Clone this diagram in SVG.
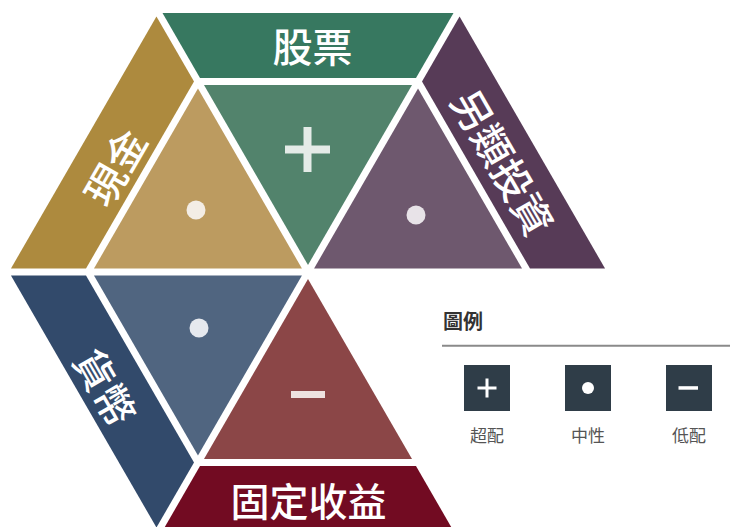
<svg xmlns="http://www.w3.org/2000/svg" width="730" height="527" viewBox="0 0 730 527">
<style>
.lbl{font-family:"Noto Sans CJK TC","Noto Sans CJK SC",sans-serif;font-size:40px;font-weight:500;fill:#ffffff;text-anchor:middle;dominant-baseline:central}
.ttl{font-family:"Noto Sans CJK TC","Noto Sans CJK SC",sans-serif;font-size:20px;font-weight:700;fill:#333333}
.leg{font-family:"Noto Sans CJK TC","Noto Sans CJK SC",sans-serif;font-size:17px;fill:#555555;text-anchor:middle;dominant-baseline:central}
.box{fill:#2f3d48}
</style>
<rect width="730" height="527" fill="#ffffff"/>
<g id="stocks">
<polygon points="162.5,13 453.5,13 416,78 200,78" fill="#377860"/>
<polygon points="204,84.9 412,84.9 308,265" fill="#52836c"/>
<rect x="285" y="145.5" width="45" height="8" fill="#e4ebe7"/>
<rect x="303.5" y="127" width="8" height="45" fill="#e4ebe7"/>
<text class="lbl" x="312.5" y="44.5">股票</text>
</g>
<g id="cash">
<polygon points="156.45,16.5 194,81.47 86,268.53 10.95,268.5" fill="#ad8a3e"/>
<polygon points="197.97,88.38 301.94,268.5 93.97,268.52" fill="#bc9b60"/>
<circle cx="196" cy="210" r="9.5" fill="#f3ede5"/>
<text class="lbl" x="114" y="166.5" transform="rotate(-60 114 166.5)">現金</text>
</g>
<g id="alternative">
<polygon points="459.55,16.5 605.05,268.5 530,268.53 422,81.47" fill="#573b57"/>
<polygon points="418.03,88.38 522.03,268.52 314.06,268.5" fill="#6e586e"/>
<circle cx="416" cy="215" r="9.5" fill="#e8e3e8"/>
<text class="lbl" x="504" y="161.5" transform="rotate(60 504 161.5)">另類投資</text>
</g>
<g id="money">
<polygon points="10.95,275.5 86,275.47 194,462.53 156.45,527.5" fill="#324a6b"/>
<polygon points="93.97,275.48 301.94,275.5 197.97,455.62" fill="#506580"/>
<circle cx="199" cy="328" r="9.5" fill="#e6e9ee"/>
<text class="lbl" x="106.5" y="386.5" transform="rotate(60 106.5 386.5)">貨幣</text>
</g>
<g id="fixed-income">
<polygon points="200,466 416,466 453.5,531 162.5,531" fill="#720b22"/>
<polygon points="308,279 412,459.1 204,459.1" fill="#8b4647"/>
<rect x="291" y="391" width="34" height="7" fill="#eee2e0"/>
<text class="lbl" x="308.5" y="499" style="font-size:39px">固定收益</text>
</g>
<g id="connectors"></g>
<g id="legend">
<text class="ttl" x="443" y="329">圖例</text>
<line x1="442" y1="345.7" x2="730" y2="345.7" stroke="#8a8a8a" stroke-width="2"/>
<g id="legend-overweight">
<rect class="box" x="464" y="365" width="46" height="46"/>
<rect x="477.5" y="386.5" width="19" height="3" fill="#ffffff"/>
<rect x="485.5" y="378.5" width="3" height="19" fill="#ffffff"/>
<text class="leg" x="487" y="434.5">超配</text>
</g>
<g id="legend-neutral">
<rect class="box" x="565" y="365" width="46" height="46"/>
<circle cx="588" cy="388" r="6" fill="#ffffff"/>
<text class="leg" x="588" y="434.5">中性</text>
</g>
<g id="legend-underweight">
<rect class="box" x="666" y="365" width="46" height="46"/>
<rect x="678.5" y="386.2" width="19.5" height="3.5" fill="#ffffff"/>
<text class="leg" x="689" y="434.5">低配</text>
</g>
</g>
</svg>
